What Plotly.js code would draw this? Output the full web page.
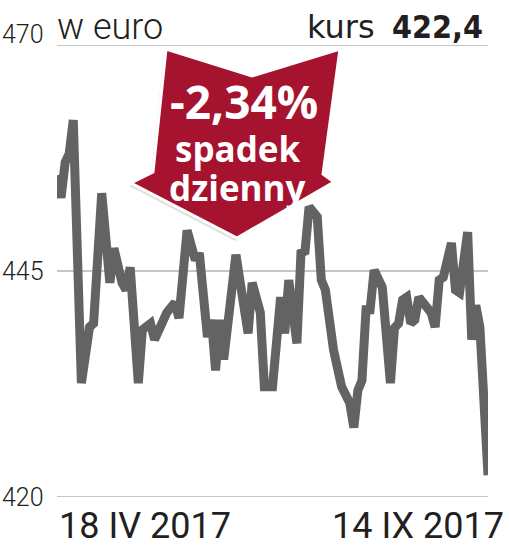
<!DOCTYPE html>
<html>
<head>
<meta charset="utf-8">
<script src="https://cdn.plot.ly/plotly-3.0.1.min.js"></script>
<style>html,body{margin:0;padding:0;background:#fff;}#chart{width:509px;height:549px;}</style>
</head>
<body>
<div id="chart"></div>
<script>
// Trading-day index (0 = 18 IV 2017, 106 = 14 IX 2017) and closing price in euro
const days = [0,1,2,3,4,6,8,9,11,13,14,16,17,18,20,21,23,24,27,29,30,32,34,35,37,38,39,40,41,44,47,48,50,51,53,55,56,57,59,60,61,62,64,65,66,68,70,72,73,74,75,76,77,78,80,81,82,83,84,85,86,87,88,89,91,92,93,94,95,97,98,99,101,102,103,104,106];
const prices = [455.6,453.1,457.0,458.0,461.7,432.6,438.8,439.2,453.6,443.7,447.5,443.7,442.9,445.4,432.6,438.5,439.2,437.4,440.4,441.5,439.8,449.5,446.2,447.0,437.7,439.6,434.0,439.6,435.2,446.8,438.1,443.7,440.4,432.2,432.2,442.1,438.1,444.0,437.0,447.0,447.2,452.1,451.0,444.0,442.9,436.3,432.2,430.4,427.7,431.8,432.9,440.7,440.7,445.1,443.2,436.3,432.6,438.7,439.2,441.8,442.1,439.2,439.6,442.1,440.7,440.4,438.8,444.0,444.3,448.1,442.9,442.6,449.3,437.4,441.2,438.8,422.4];
const yTicks = [420, 445, 470];
const xLabels = ["18 IV 2017", "14 IX 2017"];
const unitLabel = "w euro";
const lastLabel = "kurs";
const lastValue = "422,4";
const changeText = "-2,34%";
const changeLines = ["spadek", "dzienny"];

// plot area in pixels (for decorations)
const PX0 = 57, PX1 = 488, PY0 = 45, PY1 = 497;
function px(x, y) { return [(x - PX0) / (PX1 - PX0), (PY1 - y) / (PY1 - PY0)]; }
function pathFrom(pts, dx, dy) {
  return pts.map((p, i) => { const q = px(p[0] + (dx||0), p[1] + (dy||0)); return (i ? 'L' : 'M') + q[0].toFixed(4) + ',' + q[1].toFixed(4); }).join(' ') + ' Z';
}
const arrowPts = [[166,49],[252,76],[340,49],[323,174],[334,182],[237,238],[131,183],[153,172]];

const shapes = yTicks.map(v => ({
  type: 'line', xref: 'paper', yref: 'y', x0: 0, x1: 1, y0: v, y1: v,
  line: {color: '#b3b3b3', width: 1.5}, layer: 'below'
}));
shapes.push({type: 'path', xref: 'paper', yref: 'paper', path: pathFrom(arrowPts, -2, 3),
  fillcolor: 'rgba(0,0,0,0.12)', line: {width: 0}, layer: 'above'});
shapes.push({type: 'path', xref: 'paper', yref: 'paper', path: pathFrom(arrowPts, 0, 0),
  fillcolor: '#a6132e', line: {color: '#ffffff', width: 3}, layer: 'above'});

const txt = '#231f20';
const annotations = [];
yTicks.forEach((v, i) => {
  annotations.push({xref: 'paper', yref: 'y', x: 0, y: v, xanchor: 'right', yanchor: 'middle',
    xshift: -11, yshift: i === yTicks.length - 1 ? 11 : 0, text: String(v), showarrow: false,
    font: {family: 'Roboto', size: 25, weight: 300, color: txt}});
});
annotations.push({xref: 'paper', yref: 'paper', x: 0, y: 1, xanchor: 'left', yanchor: 'bottom',
  xshift: -2, yshift: -5, text: unitLabel, showarrow: false, font: {family: 'Roboto', size: 36, weight: 300, color: txt}});
const kx = px(377, 0)[0], vx = px(485, 0)[0];
annotations.push({xref: 'paper', yref: 'paper', x: kx, y: 1, xanchor: 'right', yanchor: 'bottom',
  yshift: -3, text: lastLabel, showarrow: false,
  font: {family: 'DejaVu Sans', size: 32, color: txt}});
annotations.push({xref: 'paper', yref: 'paper', x: vx, y: 1, xanchor: 'right', yanchor: 'bottom',
  yshift: -3, text: '<b>' + lastValue + '</b>', showarrow: false,
  font: {family: '"DejaVu Sans Condensed", "DejaVu Sans"', size: 32, color: txt}});
annotations.push({xref: 'paper', yref: 'paper', x: 0, y: 0, xanchor: 'left', yanchor: 'top',
  yshift: -6, text: xLabels[0], showarrow: false, font: {family: 'Roboto', size: 36, color: txt}});
annotations.push({xref: 'paper', yref: 'paper', x: 1, y: 0, xanchor: 'right', yanchor: 'top',
  xshift: 18, yshift: -6, text: xLabels[1], showarrow: false, font: {family: 'Roboto', size: 36, color: txt}});
// arrow texts
const c1 = px(244, 101), c2 = px(238, 148), c3 = px(237, 187);
annotations.push({xref: 'paper', yref: 'paper', x: c1[0], y: c1[1], xanchor: 'center', yanchor: 'middle',
  text: '<b>' + changeText + '</b>', showarrow: false, font: {family: 'Open Sans', size: 46, color: '#ffffff'}});
annotations.push({xref: 'paper', yref: 'paper', x: c2[0], y: c2[1], xanchor: 'center', yanchor: 'middle',
  text: '<b>' + changeLines[0] + '</b>', showarrow: false, font: {family: 'Open Sans', size: 35, color: '#ffffff'}});
annotations.push({xref: 'paper', yref: 'paper', x: c3[0], y: c3[1], xanchor: 'center', yanchor: 'middle',
  text: '<b>' + changeLines[1] + '</b>', showarrow: false, font: {family: 'Open Sans', size: 35, color: '#ffffff'}});

const trace = {x: days, y: prices, type: 'scatter', mode: 'lines', cliponaxis: false,
  line: {color: '#636363', width: 9, shape: 'linear'}, hoverinfo: 'skip'};

const layout = {
  width: 509, height: 549,
  margin: {l: PX0, r: 509 - PX1, t: PY0, b: 549 - PY1, pad: 0},
  paper_bgcolor: '#ffffff', plot_bgcolor: '#ffffff',
  showlegend: false,
  xaxis: {range: [0, 106], showgrid: false, zeroline: false, showline: false, showticklabels: false, ticks: '', fixedrange: true},
  yaxis: {range: [420, 470], showgrid: false, zeroline: false, showline: false, showticklabels: false, ticks: '', fixedrange: true},
  shapes: shapes,
  annotations: annotations
};
Plotly.newPlot('chart', [trace], layout, {displayModeBar: false, staticPlot: true});
</script>
</body>
</html>
